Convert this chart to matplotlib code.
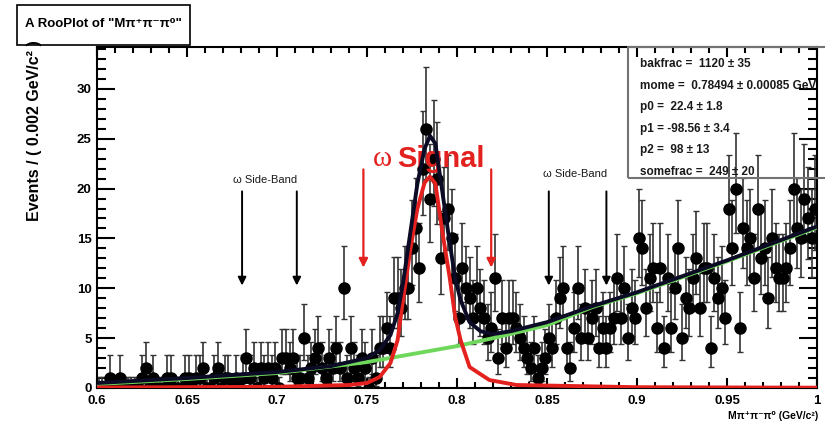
import numpy as np
import matplotlib.pyplot as plt
from matplotlib.patches import Rectangle

plt.rcParams['font.family'] = ['Liberation Sans', 'DejaVu Sans']

# binned data: 200 bins of 0.002 GeV/c^2 between 0.6 and 1.0
bin_lo = 0.6
bin_width = 0.002
counts = [
    0, 0, 0, 1, 0, 0, 1, 0, 0, 0,
    0, 0, 1, 2, 0, 1, 0, 0, 0, 1,
    1, 0, 0, 0, 1, 1, 0, 1, 1, 2,
    0, 0, 1, 2, 0, 1, 1, 0, 1, 0,
    1, 3, 1, 2, 0, 2, 1, 2, 1, 2,
    0, 3, 3, 2, 3, 1, 1, 5, 1, 2,
    3, 4, 2, 1, 3, 2, 4, 2, 10, 1,
    4, 2, 1, 3, 2, 0, 3, 1, 4, 4,
    6, 4, 9, 9, 8, 10, 10, 14, 16, 12,
    22, 26, 19, 23, 21, 13, 17, 18, 15, 11,
    7, 12, 10, 9, 7, 10, 8, 7, 5, 6,
    11, 3, 7, 4, 7, 7, 6, 5, 4, 3,
    2, 4, 1, 2, 3, 5, 4, 7, 9, 10,
    4, 2, 6, 10, 5, 8, 5, 7, 8, 4,
    6, 4, 6, 7, 11, 7, 10, 5, 8, 7,
    15, 14, 8, 11, 12, 6, 12, 4, 11, 6,
    10, 14, 5, 9, 8, 11, 13, 8, 12, 12,
    4, 11, 9, 10, 7, 18, 14, 20, 6, 16,
    14, 15, 11, 18, 13, 14, 9, 15, 12, 11,
    11, 12, 14, 20, 16, 15, 19, 17, 15, 18,
]

# fit curves
total_x = [0.6, 0.65, 0.7, 0.73, 0.75, 0.757, 0.763, 0.767, 0.770, 0.774,
           0.778, 0.782, 0.785, 0.788, 0.792, 0.796, 0.799, 0.802, 0.807,
           0.813, 0.82, 0.83, 0.85, 0.875, 0.9, 0.925, 0.95, 0.975, 1.0]
total_y = [0.5, 1.0, 1.6, 2.2, 3.0, 3.8, 5.3, 7.5, 10.5, 15.5,
           20.5, 24.0, 25.3, 24.5, 19.5, 14.5, 11.0, 8.8, 6.6,
           5.7, 5.4, 5.7, 6.6, 8.2, 9.6, 11.2, 12.8, 14.5, 16.2]

sig_x = [0.6, 0.7, 0.74, 0.75, 0.757, 0.763, 0.767, 0.770, 0.774, 0.778,
         0.782, 0.785, 0.788, 0.792, 0.796, 0.799, 0.802, 0.807, 0.818,
         0.833, 0.9, 1.0]
sig_y = [0.05, 0.12, 0.3, 0.5, 1.1, 2.5, 4.8, 8.8, 13.8, 18.0,
         20.6, 21.2, 20.5, 15.5, 11.0, 7.1, 4.8, 2.1, 0.8,
         0.3, 0.08, 0.03]

bkg_x = [0.6, 0.65, 0.7, 0.75, 0.8, 0.82, 0.85, 0.875, 0.9, 0.925, 0.95, 0.975, 1.0]
bkg_y = [0.4, 0.9, 1.5, 2.6, 4.2, 5.0, 6.3, 8.1, 9.5, 11.1, 12.7, 14.4, 16.1]

stat_lines = [
    'bakfrac =  1120 ± 35',
    'mome =  0.78494 ± 0.00085 GeV',
    'p0 =  22.4 ± 1.8',
    'p1 = -98.56 ± 3.4',
    'p2 =  98 ± 13',
    'somefrac =  249 ± 20',
]


def poisson_err(n):
    if n == 0:
        return 0.0, 1.15
    lo = n - n * (1 - 1 / (9 * n) - 1 / (3 * np.sqrt(n))) ** 3
    hi = np.sqrt(n + 0.75) + 1
    return lo, hi


counts = np.array(counts)
centers = bin_lo + bin_width * (np.arange(len(counts)) + 0.5)
errs = np.array([poisson_err(n) for n in counts]).T

W, H = 825, 434
fig = plt.figure(figsize=(W / 100, H / 100), dpi=100)
ax = fig.add_axes([97 / W, 1 - 388 / H, 720 / W, 341 / H])

ax.errorbar(centers, counts, yerr=errs, fmt='o', color='black', ms=8,
            ecolor='0.2', elinewidth=1.2, capsize=2, capthick=1.0, zorder=2)

ax.plot(bkg_x, bkg_y, color='#6fd85c', lw=2.8, zorder=3)
ax.plot(sig_x, sig_y, color='#e3211f', lw=2.8, zorder=4)
ax.plot(total_x, total_y, color='#0b0b25', lw=2.8, zorder=5)

# side-band and signal arrows
arrow_k = dict(arrowstyle='-|>', color='black', lw=1.4, mutation_scale=12)
for xa in [0.6806, 0.711, 0.851, 0.883]:
    ax.annotate('', xy=(xa, 10.0), xytext=(xa, 20.0), arrowprops=arrow_k, zorder=6)
arrow_r = dict(arrowstyle='-|>', color='#e3211f', lw=1.6, mutation_scale=13)
for xa in [0.748, 0.819]:
    ax.annotate('', xy=(xa, 11.8), xytext=(xa, 22.2), arrowprops=arrow_r, zorder=6)

ax.text(0.6933, 20.4, 'ω Side-Band', fontsize=8, ha='center', va='bottom', color='0.1')
ax.text(0.8656, 21.0, 'ω Side-Band', fontsize=8, ha='center', va='bottom', color='0.1')
ax.text(0.7583, 23.0, 'ω', fontsize=21, family=['Liberation Serif', 'DejaVu Serif'],
        color='#e3211f', ha='center', va='center')
ax.text(0.7665, 23.0, 'Signal', fontsize=21, fontweight='bold',
        color='#e3211f', ha='left', va='center')

ax.set_xlim(0.6, 1.0)
ax.set_ylim(0, 34.2)
ax.set_xticks(np.arange(0.6, 1.001, 0.05))
ax.set_xticklabels(['0.6', '0.65', '0.7', '0.75', '0.8', '0.85', '0.9', '0.95', '1'])
ax.set_xticks(np.arange(0.6, 1.001, 0.01), minor=True)
ax.set_yticks(np.arange(0, 31, 5))
ax.set_yticks(np.arange(0, 35, 1), minor=True)
ax.tick_params(axis='both', which='both', direction='in', top=True, right=True,
               width=1.5, labelsize=9.5)
ax.tick_params(axis='x', which='major', length=7, pad=5)
ax.tick_params(axis='x', which='minor', length=4)
ax.tick_params(axis='y', which='major', length=13, pad=4)
ax.tick_params(axis='y', which='minor', length=6.5)
for lab in ax.get_xticklabels() + ax.get_yticklabels():
    lab.set_fontweight('bold')
for sp in ax.spines.values():
    sp.set_linewidth(1.5)

fig.text(818 / W, 1 - 416 / H, 'Mπ⁺π⁻π⁰ (GeV/c²)', fontsize=7.5, fontweight='bold',
         ha='right', va='center')
fig.text(35 / W, 1 - 40 / H, 'Events / ( 0.002 GeV/c² )', fontsize=11.5,
         fontweight='bold', rotation=90, ha='center', va='top')

# title box
fig.patches.append(Rectangle((17 / W, 1 - 45 / H), 173 / W, 40 / H, fill=False,
                             edgecolor='black', lw=1.2, transform=fig.transFigure))
fig.text(103 / W, 1 - 24 / H, 'A RooPlot of "Mπ⁺π⁻π⁰"', fontsize=9.5,
         fontweight='bold', ha='center', va='center')

# parameter box
fig.patches.append(Rectangle((628 / W, 1 - 178 / H), 210 / W, 131 / H, fill=False,
                             edgecolor='0.45', lw=1.5, transform=fig.transFigure))
for i, line in enumerate(stat_lines):
    fig.text(640 / W, 1 - (64 + i * 21.6) / H, line, fontsize=8.5,
             fontweight='bold', ha='left', va='center', color='0.1')

fig.savefig('out.png', dpi=100)
